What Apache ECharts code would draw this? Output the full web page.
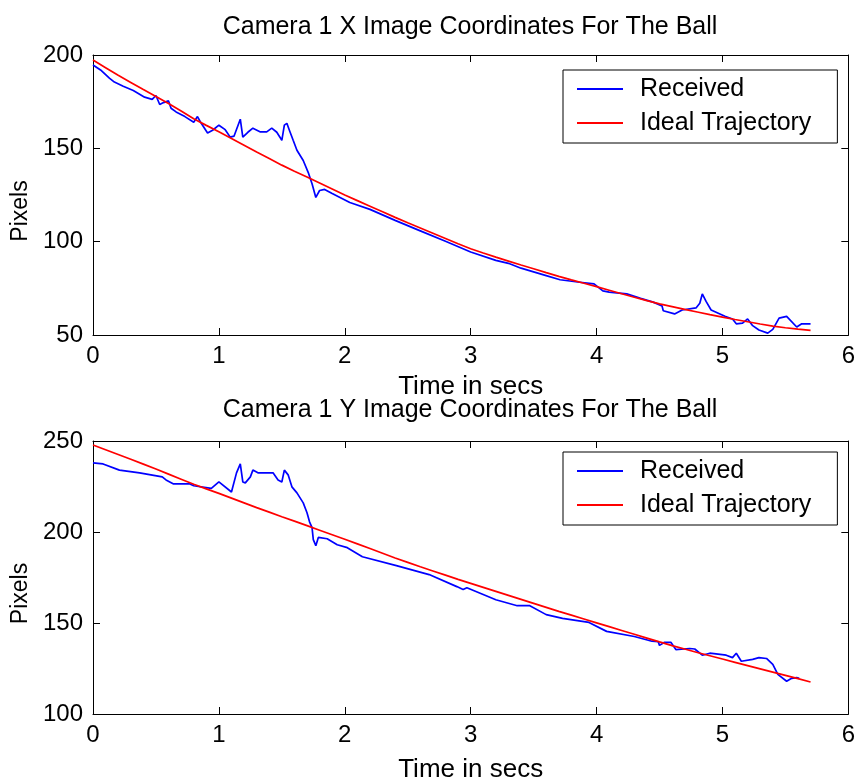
<!DOCTYPE html>
<html>
<head>
<meta charset="utf-8">
<script src="https://cdn.jsdelivr.net/npm/echarts@6/dist/echarts.min.js"></script>
<style>
  html, body { margin: 0; padding: 0; background: #fff; }
  #chart { width: 858px; height: 784px; }
</style>
</head>
<body>
<div id="chart"></div>
<script>
// Camera 1, X image coordinate: received samples [time s] and pixel values
const xReceivedT = [0.00,0.06,0.13,0.17,0.24,0.32,0.41,0.47,0.50,0.53,0.56,0.60,0.62,0.66,0.73,0.80,0.83,0.86,0.91,0.95,
  1.00,1.05,1.09,1.12,1.17,1.19,1.23,1.27,1.33,1.38,1.42,1.46,1.50,1.52,1.54,1.56,1.59,1.62,1.67,1.71,1.74,1.77,1.80,1.84,1.90,
  2.04,2.20,2.40,2.60,2.80,3.00,3.20,3.30,3.40,3.60,3.71,3.85,3.98,4.05,4.10,4.24,4.35,4.45,4.52,4.53,4.62,4.68,4.79,4.82,4.84,
  4.87,4.91,4.98,5.02,5.08,5.11,5.16,5.20,5.24,5.29,5.36,5.40,5.45,5.51,5.59,5.63,5.70];
const xReceived = [194.6,192.0,187.6,185.5,183.3,181.0,177.4,176.2,178.3,173.5,174.5,175.4,171.5,169.5,167.0,164.0,167.0,163.4,158.2,159.7,
  162.4,160.0,156.0,156.5,165.6,156.0,158.6,160.8,158.8,158.8,160.8,158.6,154.3,162.4,163.4,159.7,154.3,149.0,143.5,137.0,131.0,123.7,127.4,128.0,125.8,
  121.0,117.3,111.4,105.8,100.2,94.5,90.0,88.4,85.8,81.8,79.6,78.4,77.4,73.6,73.0,72.0,69.6,67.6,65.6,63.0,61.3,63.4,64.5,67.0,72.0,
  68.0,63.4,61.3,60.0,58.6,56.0,56.4,58.6,55.0,52.7,51.0,53.0,59.0,60.0,54.3,56.0,56.0];

// Camera 1, X image coordinate: ideal trajectory, sampled every 0.1 s
const xIdealT = [0.0,0.1,0.2,0.3,0.4,0.5,0.6,0.7,0.8,0.9,1.0,1.1,1.2,1.3,1.4,1.5,1.6,1.7,1.8,1.9,
  2.0,2.1,2.2,2.3,2.4,2.5,2.6,2.7,2.8,2.9,3.0,3.1,3.2,3.3,3.4,3.5,3.6,3.7,3.8,3.9,
  4.0,4.1,4.2,4.3,4.4,4.5,4.6,4.7,4.8,4.9,5.0,5.1,5.2,5.3,5.4,5.5,5.6,5.7];
const xIdeal = [197.3,193.2,189.1,185.3,181.5,177.8,174.0,170.0,165.8,162.3,158.9,155.3,151.7,148.0,144.5,141.0,137.7,134.6,131.4,128.2,
  125.0,122.0,119.0,116.0,113.0,110.1,107.3,104.5,101.7,98.9,96.2,93.9,91.7,89.6,87.5,85.5,83.4,81.4,79.5,77.7,
  75.9,74.0,72.1,70.2,68.4,66.7,65.2,63.7,62.3,60.9,59.6,58.3,57.1,55.9,54.8,53.9,53.1,52.5];

// Camera 1, Y image coordinate: received samples
const yReceivedT = [0.00,0.08,0.21,0.37,0.55,0.58,0.64,0.77,0.80,0.94,1.00,1.10,1.14,1.17,1.19,1.21,1.25,1.27,1.31,1.43,
  1.47,1.50,1.52,1.55,1.58,1.62,1.67,1.70,1.72,1.74,1.75,1.77,1.79,1.80,1.86,1.94,2.02,2.14,2.41,2.67,
  2.89,2.94,2.97,3.20,3.37,3.47,3.60,3.73,3.94,4.08,4.30,4.44,4.49,4.50,4.54,4.59,4.63,4.74,4.78,4.84,
  4.90,5.03,5.08,5.11,5.15,5.24,5.29,5.35,5.40,5.44,5.51,5.55,5.59,5.61];
const yReceived = [238.0,237.4,234.0,232.5,230.3,228.6,226.4,226.4,225.4,224.0,227.5,222.0,232.5,237.4,227.5,227.0,230.3,234.0,232.5,232.5,
  228.6,227.5,234.0,231.4,224.8,221.5,216.0,210.6,205.6,202.4,195.8,192.5,197.0,198.0,196.3,193.0,191.4,186.4,181.5,176.6,
  170.0,168.4,169.4,162.8,159.5,159.5,154.6,152.5,150.3,145.4,142.6,140.0,139.7,137.7,139.4,139.4,135.4,136.0,135.7,132.3,
  133.4,132.3,131.0,133.4,129.0,130.0,131.0,130.5,127.3,121.8,118.0,119.6,120.0,119.6];

// Camera 1, Y image coordinate: ideal trajectory, sampled every 0.1 s
const yIdealT = xIdealT;
const yIdeal = [247.8,245.2,242.6,240.0,237.3,234.6,231.8,229.0,226.2,223.7,221.2,218.6,216.0,213.4,210.9,208.4,206.0,203.5,201.0,198.5,
  196.0,193.5,190.9,188.3,185.7,183.3,180.9,178.6,176.3,174.0,171.8,169.6,167.4,165.2,163.0,160.8,158.6,156.4,154.3,152.2,
  150.1,148.0,145.9,143.8,141.7,139.6,137.6,135.7,133.8,132.0,130.2,128.4,126.6,124.8,123.0,121.2,119.4,117.6];

const xTickLabels = ['0', '1', '2', '3', '4', '5', '6'];
const titles = ['Camera 1 X Image Coordinates For The Ball', 'Camera 1 Y Image Coordinates For The Ball'];
const seriesNames = ['Received', 'Ideal Trajectory'];
const xAxisTitle = 'Time in secs';
const yAxisTitle = 'Pixels';

const zip = (t, v) => t.map((ti, i) => [ti, v[i]]);

const FONT = 'Liberation Sans, Arial, sans-serif';
const FS = 24;
const BLUE = '#0000ff';
const RED = '#ff0000';

const grids = [
  { left: 93, top: 55, width: 756, height: 280 },
  { left: 93, top: 441, width: 756, height: 274 }
];
const yRanges = [[50, 200], [100, 250]];
const xNameGaps = [39, 43];

const xAxes = [];
const yAxes = [];
grids.forEach((g, gi) => {
  const lineStyle = { color: '#000', width: 1 };
  // bottom axis with labels
  xAxes.push({
    gridIndex: gi, type: 'value', position: 'bottom', min: 0, max: 6, interval: 1,
    axisLine: { show: true, onZero: false, lineStyle },
    axisTick: { show: true, inside: true, length: 7, lineStyle },
    axisLabel: { show: true, color: '#000', fontFamily: FONT, fontSize: FS, margin: 9,
      formatter: (v) => xTickLabels[Math.round(v)] },
    splitLine: { show: false },
    name: xAxisTitle, nameLocation: 'middle', nameGap: xNameGaps[gi],
    nameTextStyle: { color: '#000', fontFamily: FONT, fontSize: 26 }
  });
  // top frame edge
  xAxes.push({
    gridIndex: gi, type: 'value', position: 'top', min: 0, max: 6, interval: 1,
    axisLine: { show: true, onZero: false, lineStyle },
    axisTick: { show: true, inside: true, length: 7, lineStyle },
    axisLabel: { show: false }, splitLine: { show: false }
  });
  const [ymin, ymax] = yRanges[gi];
  yAxes.push({
    gridIndex: gi, type: 'value', position: 'left', min: ymin, max: ymax, interval: 50,
    axisLine: { show: true, onZero: false, lineStyle },
    axisTick: { show: true, inside: true, length: 7, lineStyle },
    axisLabel: { show: true, color: '#000', fontFamily: FONT, fontSize: FS, margin: 10 },
    splitLine: { show: false },
    name: yAxisTitle, nameLocation: 'middle', nameGap: 56, nameRotate: 90,
    nameTextStyle: { color: '#000', fontFamily: FONT, fontSize: 23, padding: [0, 32, 0, 0] }
  });
  // right frame edge
  yAxes.push({
    gridIndex: gi, type: 'value', position: 'right', min: ymin, max: ymax, interval: 50,
    axisLine: { show: true, onZero: false, lineStyle },
    axisTick: { show: true, inside: true, length: 7, lineStyle },
    axisLabel: { show: false }, splitLine: { show: false }
  });
});

const lineSeries = (name, color, data, gi) => ({
  name, type: 'line', xAxisIndex: gi * 2, yAxisIndex: gi * 2,
  data, symbol: 'none', showSymbol: false, smooth: false,
  lineStyle: { color, width: 1.7 }, itemStyle: { color },
  emphasis: { disabled: true }, animation: false
});

const legendBox = (top) => ({
  left: 563, top, orient: 'vertical',
  data: seriesNames.map((n) => ({ name: n, icon: 'rect' })),
  backgroundColor: '#fff', borderColor: '#000', borderWidth: 1,
  padding: [5, 26, 6, 14],
  itemWidth: 46, itemHeight: 2, itemGap: 6,
  textStyle: { color: '#000', fontFamily: FONT, fontSize: 25, lineHeight: 28, padding: [0, 0, 0, 12] },
  selectedMode: false
});

const option = {
  backgroundColor: '#fff',
  animation: false,
  title: titles.map((t, i) => ({
    text: t, left: 465, top: i === 0 ? 10 : 393, textAlign: 'center',
    textStyle: { color: '#000', fontFamily: FONT, fontSize: 25, fontWeight: 'normal' }
  })),
  grid: grids,
  xAxis: xAxes,
  yAxis: yAxes,
  legend: [legendBox(70), legendBox(452)],
  series: [
    lineSeries(seriesNames[0], BLUE, zip(xReceivedT, xReceived), 0),
    lineSeries(seriesNames[1], RED, zip(xIdealT, xIdeal), 0),
    lineSeries(seriesNames[0], BLUE, zip(yReceivedT, yReceived), 1),
    lineSeries(seriesNames[1], RED, zip(yIdealT, yIdeal), 1)
  ]
};

const chart = echarts.init(document.getElementById('chart'), null, { renderer: 'canvas' });
chart.setOption(option);
</script>
</body>
</html>
